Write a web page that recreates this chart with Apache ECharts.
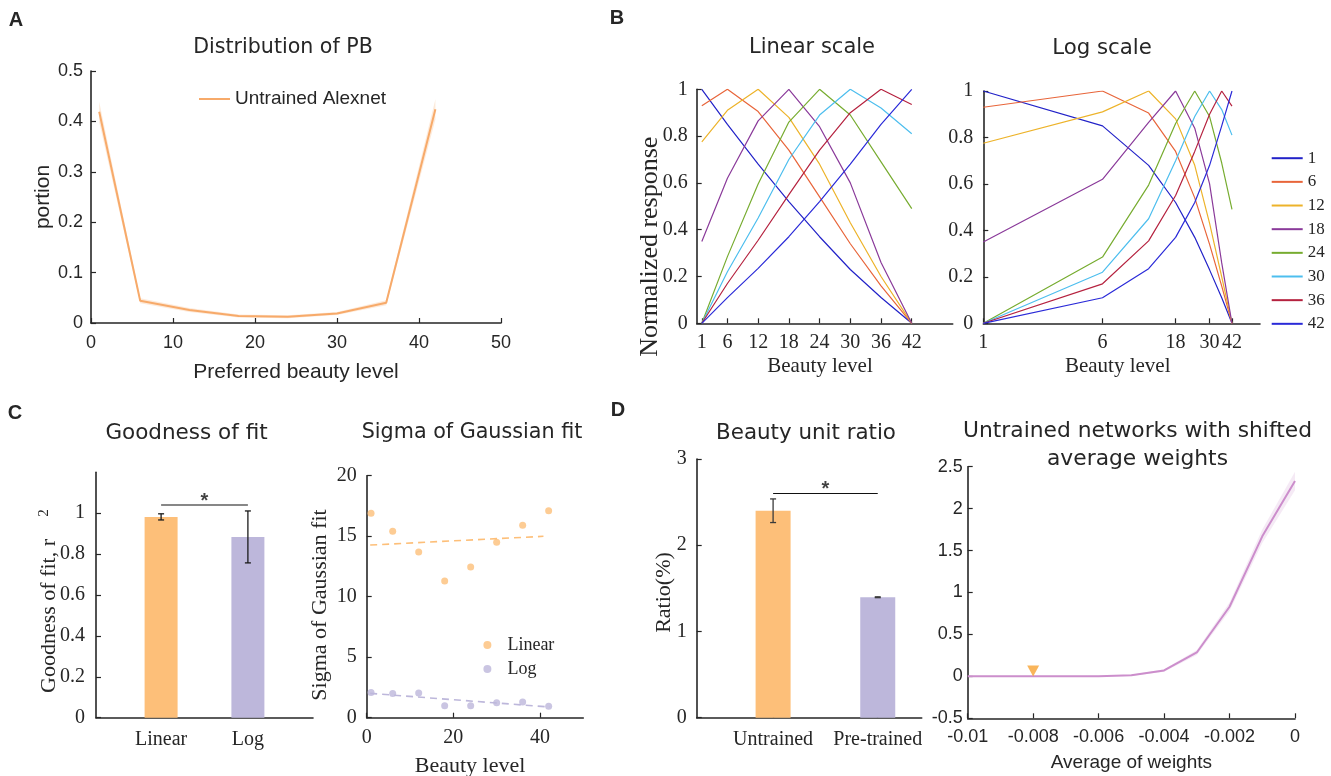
<!DOCTYPE html>
<html>
<head>
<meta charset="utf-8">
<script src="https://cdn.jsdelivr.net/npm/echarts@6/dist/echarts.min.js"></script>
<style>html,body{margin:0;padding:0;background:#fff;}#c{width:1331px;height:776px;}</style>
</head>
<body>
<div id="c"></div>
<script>
// ---------------- DATA ----------------
// Panel A: distribution of preferred beauty level
const levels = [1, 6, 12, 18, 24, 30, 36, 42];
const pbPortion = [0.419, 0.044, 0.026, 0.014, 0.0125, 0.019, 0.040, 0.424];
const pbErr = [0.02, 0.005, 0.004, 0.003, 0.003, 0.003, 0.005, 0.02];

// Panel B: normalized tuning curves (one per preferred level)
const tuneNames = ['1', '6', '12', '18', '24', '30', '36', '42'];
const tune1 = [1, 0.85, 0.68, 0.52, 0.37, 0.23, 0.11, 0];
const tune6 = [0.93, 1, 0.905, 0.74, 0.54, 0.34, 0.16, 0];
const tune12 = [0.775, 0.91, 1, 0.88, 0.68, 0.43, 0.2, 0];
const tune18 = [0.35, 0.62, 0.865, 1, 0.84, 0.6, 0.26, 0];
const tune24 = [0, 0.285, 0.595, 0.86, 1, 0.89, 0.69, 0.49];
const tune30 = [0, 0.22, 0.45, 0.7, 0.89, 1, 0.92, 0.81];
const tune36 = [0, 0.17, 0.355, 0.55, 0.74, 0.9, 1, 0.935];
const tune42 = [0, 0.11, 0.235, 0.37, 0.52, 0.68, 0.85, 1];
const linTicks = [1, 6, 12, 18, 24, 30, 36, 42];
const logTicks = [1, 6, 18, 30, 42];

// Panel C: goodness of fit and sigma of Gaussian fit
const fitCats = ['Linear', 'Log'];
const fitR2 = [0.982, 0.884];
const fitR2Err = [0.015, 0.127];
const fitSigY = 1.04;
const gofYTicks = [0, 0.2, 0.4, 0.6, 0.8, 1];
const sigmaLinear = [16.9, 15.4, 13.7, 11.3, 12.45, 14.5, 15.9, 17.1];
const sigmaLog = [2.09, 2.01, 2.04, 0.99, 0.99, 1.24, 1.29, 0.94];
const sigmaLinFitX = [0.8, 40.8];
const sigmaLinFitY = [14.27, 14.99];
const sigmaLogFitX = [0.8, 42.3];
const sigmaLogFitY = [2.01, 0.88];
const sigmaXTicks = [0, 20, 40];

// Panel D: beauty unit ratio and shifted weights
const ratioCats = ['Untrained', 'Pre-trained'];
const ratioVals = [2.40, 1.397];
const ratioErr = [0.137, 0.005];
const ratioSigY = 2.6;
const shiftX = [-0.01, -0.009, -0.008, -0.007, -0.006, -0.005, -0.004, -0.003, -0.002, -0.001, 0];
const shiftY = [0, 0, 0, 0, 0.002, 0.012, 0.07, 0.285, 0.83, 1.67, 2.33];
const shiftErr = [0.004, 0.004, 0.004, 0.004, 0.005, 0.008, 0.015, 0.03, 0.05, 0.08, 0.11];
const markerX = [-0.008];
const markerY = [0.065];

// ---------------- STYLE ----------------
const SERIF = 'Liberation Serif';
const SANS = 'Liberation Sans';
const TITLEF = 'DejaVu Sans';
const INK = '#262626';
const tuneColors = ['#2222C8', '#E8653A', '#EDB32A', '#8A3A9A', '#77AC30', '#4DBEEE', '#B5223F', '#2A2AD8'];
const orange = '#FDBF79';
const lilac = '#BDB7DB';

function mkAxis(gi, fam, size, margin, o) {
  const ax = {
    type: o.type || 'value', gridIndex: gi, min: o.min, max: o.max,
    axisLine: {show: true, onZero: false, lineStyle: {color: INK, width: 1.6}},
    axisTick: {show: o.tickShow !== false, inside: true, length: 5, lineStyle: {color: INK, width: 1.2}},
    axisLabel: {show: true, color: INK, fontFamily: fam, fontSize: size, margin: margin},
    splitLine: {show: false}, minorTick: {show: false}, minorSplitLine: {show: false}
  };
  if (o.interval != null) ax.interval = o.interval;
  if (o.logBase) ax.logBase = o.logBase;
  if (o.values) { ax.axisLabel.customValues = o.values; ax.axisTick.customValues = o.values; }
  if (o.formatter) ax.axisLabel.formatter = o.formatter;
  return ax;
}

function bandSeries(gi, xs, mid, err, color) {
  const lo = mid.map((v, i) => v - err[i]);
  const hi = mid.map((v, i) => v + err[i]);
  return {
    type: 'custom', xAxisIndex: gi, yAxisIndex: gi, silent: true, z: 1, clip: false,
    data: xs.map((x, i) => [x, lo[i], hi[i]]),
    encode: {x: 0, y: [1, 2]},
    renderItem(params, api) {
      if (params.dataIndex !== 0) return null;
      const pts = [];
      for (let i = 0; i < xs.length; i++) pts.push(api.coord([xs[i], hi[i]]));
      for (let i = xs.length - 1; i >= 0; i--) pts.push(api.coord([xs[i], lo[i]]));
      return {type: 'polygon', shape: {points: pts}, style: {fill: color}};
    }
  };
}

function errSeries(gi, means, errs, color, cap) {
  return {
    type: 'custom', xAxisIndex: gi, yAxisIndex: gi, silent: true, z: 5,
    data: means.map((m, i) => [i + 1, m - errs[i], m + errs[i]]),
    encode: {x: 0, y: [1, 2]},
    renderItem(params, api) {
      const x = api.value(0);
      const a = api.coord([x, api.value(1)]);
      const b = api.coord([x, api.value(2)]);
      const st = {stroke: color, lineWidth: 1.3};
      return {type: 'group', children: [
        {type: 'line', shape: {x1: a[0], y1: a[1], x2: b[0], y2: b[1]}, style: st},
        {type: 'line', shape: {x1: a[0] - cap, y1: a[1], x2: a[0] + cap, y2: a[1]}, style: st},
        {type: 'line', shape: {x1: b[0] - cap, y1: b[1], x2: b[0] + cap, y2: b[1]}, style: st}
      ]};
    }
  };
}

function sigSeries(gi, x0, x1, y) {
  return [
    {type: 'line', xAxisIndex: gi, yAxisIndex: gi, data: [[x0, y], [x1, y]], symbol: 'none',
     lineStyle: {color: '#111', width: 1.2}, silent: true, z: 5},
    {type: 'scatter', xAxisIndex: gi, yAxisIndex: gi, data: [[(x0 + x1) / 2, y]], symbolSize: 1,
     itemStyle: {color: 'rgba(0,0,0,0)'}, silent: true, z: 6,
     label: {show: true, formatter: '*', position: 'inside', offset: [0, -4], fontSize: 20,
             fontWeight: 'bold', fontFamily: SANS, color: '#111'}}
  ];
}

function txt(t, x, y, o) {
  return {type: 'text', x: x, y: y, rotation: o.rot ? Math.PI / 2 : 0, silent: true, z: 100,
    style: {text: t, fontSize: o.size, fontFamily: o.fam, fontWeight: o.weight || 'normal', fill: INK,
            textAlign: 'center', textVerticalAlign: 'middle', align: 'center', verticalAlign: 'middle'}};
}

const tuneData = [tune1, tune6, tune12, tune18, tune24, tune30, tune36, tune42];
const bSeries = [];
tuneData.forEach((arr, k) => {
  const base = {type: 'line', name: tuneNames[k], symbol: 'none', silent: true,
    lineStyle: {color: tuneColors[k], width: 1.2}, itemStyle: {color: tuneColors[k]}};
  bSeries.push(Object.assign({}, base, {xAxisIndex: 1, yAxisIndex: 1, data: levels.map((x, i) => [x, arr[i]])}));
  bSeries.push(Object.assign({}, base, {xAxisIndex: 2, yAxisIndex: 2, data: levels.map((x, i) => [x, arr[i]])}));
});

const option = {
  animation: false,
  backgroundColor: '#ffffff',
  grid: [
    {left: 91, top: 71, width: 410, height: 252},
    {left: 696.7, top: 89.3, width: 256, height: 234},
    {left: 983.3, top: 91, width: 276.7, height: 232.3},
    {left: 96, top: 472.3, width: 217, height: 245.4},
    {left: 366.7, top: 475.7, width: 216.6, height: 242},
    {left: 696.7, top: 459, width: 225, height: 258.7},
    {left: 967.7, top: 466.7, width: 327.3, height: 251.6}
  ].map(g => Object.assign({outerBoundsMode: 'none', containLabel: false}, g)),
  xAxis: [
    mkAxis(0, SANS, 18, 11, {min: 0, max: 50, interval: 10}),
    mkAxis(1, SERIF, 20, 9, {min: 0, max: 50, values: linTicks}),
    mkAxis(2, SERIF, 20, 9, {type: 'log', logBase: 10, min: 1, max: 64, values: logTicks}),
    mkAxis(3, SERIF, 20, 12, {min: 0.25, max: 2.75, values: [1, 2], tickShow: false,
      formatter: v => fitCats[Math.round(v) - 1]}),
    mkAxis(4, SERIF, 20, 10, {min: 0, max: 50, values: sigmaXTicks}),
    mkAxis(5, SERIF, 20, 12, {min: 0.27, max: 2.42, values: [1, 2],
      formatter: v => ratioCats[Math.round(v) - 1]}),
    mkAxis(6, SANS, 18, 10, {min: -0.01, max: 0, interval: 0.002})
  ],
  yAxis: [
    mkAxis(0, SANS, 18, 8, {min: 0, max: 0.5, interval: 0.1}),
    mkAxis(1, SERIF, 20, 9, {min: 0, max: 1, interval: 0.2}),
    mkAxis(2, SERIF, 20, 10, {min: 0, max: 1, interval: 0.2}),
    mkAxis(3, SERIF, 20, 11, {min: 0, max: 1.2, values: gofYTicks}),
    mkAxis(4, SERIF, 20, 10, {min: 0, max: 20, interval: 5}),
    mkAxis(5, SERIF, 20, 10, {min: 0, max: 3, interval: 1}),
    mkAxis(6, SANS, 18, 5, {min: -0.5, max: 2.5, interval: 0.5})
  ],
  legend: [
    {data: ['Untrained Alexnet'], left: 199, top: 89.5, padding: 0, icon: 'rect',
     itemWidth: 31, itemHeight: 2, selectedMode: false,
     textStyle: {fontFamily: SANS, fontSize: 19, lineHeight: 19, color: INK}},
    {data: tuneNames, orient: 'vertical', left: 1271.7, top: 149.7, padding: 0, icon: 'rect',
     itemWidth: 31, itemHeight: 2, itemGap: 6.66, selectedMode: false,
     textStyle: {fontFamily: SERIF, fontSize: 17, lineHeight: 17, color: INK}},
    {data: ['Linear', 'Log'], orient: 'vertical', left: 483.4, top: 636, padding: 0,
     itemWidth: 30, itemHeight: 8, itemGap: 6, selectedMode: false,
     textStyle: {fontFamily: SERIF, fontSize: 18, lineHeight: 18, color: INK}}
  ],
  series: [
    // A
    bandSeries(0, levels, pbPortion, pbErr, 'rgba(246,170,106,0.25)'),
    {type: 'line', name: 'Untrained Alexnet', xAxisIndex: 0, yAxisIndex: 0, symbol: 'none', silent: true,
     data: levels.map((x, i) => [x, pbPortion[i]]),
     lineStyle: {color: '#F7AA6A', width: 2}, itemStyle: {color: '#F7AA6A'}, z: 3},
    // B
    ...bSeries,
    // C left
    {type: 'bar', xAxisIndex: 3, yAxisIndex: 3, barWidth: 33, silent: true,
     data: fitR2.map((v, i) => ({value: [i + 1, v], itemStyle: {color: [orange, lilac][i]}}))},
    errSeries(3, fitR2, fitR2Err, '#1a1a1a', 3),
    ...sigSeries(3, 1, 2, fitSigY),
    // C right
    {type: 'line', xAxisIndex: 4, yAxisIndex: 4, symbol: 'none', silent: true,
     data: sigmaLinFitX.map((x, i) => [x, sigmaLinFitY[i]]),
     lineStyle: {color: orange, width: 1.6, type: [7, 5]}},
    {type: 'line', xAxisIndex: 4, yAxisIndex: 4, symbol: 'none', silent: true,
     data: sigmaLogFitX.map((x, i) => [x, sigmaLogFitY[i]]),
     lineStyle: {color: lilac, width: 1.6, type: [7, 5]}},
    {type: 'scatter', name: 'Linear', xAxisIndex: 4, yAxisIndex: 4, symbolSize: 7, silent: true,
     data: levels.map((x, i) => [x, sigmaLinear[i]]), itemStyle: {color: orange}},
    {type: 'scatter', name: 'Log', xAxisIndex: 4, yAxisIndex: 4, symbolSize: 7, silent: true,
     data: levels.map((x, i) => [x, sigmaLog[i]]), itemStyle: {color: lilac}},
    // D left
    {type: 'bar', xAxisIndex: 5, yAxisIndex: 5, barWidth: 35, silent: true,
     data: ratioVals.map((v, i) => ({value: [i + 1, v], itemStyle: {color: [orange, lilac][i]}}))},
    errSeries(5, ratioVals, ratioErr, '#3a3a3a', 3),
    ...sigSeries(5, 1, 2, ratioSigY),
    // D right
    bandSeries(6, shiftX, shiftY, shiftErr, 'rgba(204,150,204,0.2)'),
    {type: 'line', xAxisIndex: 6, yAxisIndex: 6, symbol: 'none', silent: true,
     data: shiftX.map((x, i) => [x, shiftY[i]]), lineStyle: {color: '#CC8ECC', width: 2}, z: 3},
    {type: 'scatter', xAxisIndex: 6, yAxisIndex: 6, symbol: 'triangle', symbolRotate: 180,
     symbolSize: [12, 11], silent: true, z: 4,
     data: markerX.map((x, i) => [x, markerY[i]]), itemStyle: {color: '#F7A232'}}
  ],
  graphic: {elements: [
    txt('A', 16, 20, {size: 20, fam: SANS, weight: 'bold'}),
    txt('B', 617, 18, {size: 20, fam: SANS, weight: 'bold'}),
    txt('C', 15, 413, {size: 20, fam: SANS, weight: 'bold'}),
    txt('D', 618, 410, {size: 20, fam: SANS, weight: 'bold'}),
    txt('Distribution of PB', 283, 48, {size: 20.6, fam: TITLEF}),
    txt('Linear scale', 812, 48, {size: 21, fam: TITLEF}),
    txt('Log scale', 1102, 48, {size: 21.3, fam: TITLEF}),
    txt('Goodness of fit', 186.5, 433, {size: 21.5, fam: TITLEF}),
    txt('Sigma of Gaussian fit', 472, 433, {size: 20.7, fam: TITLEF}),
    txt('Beauty unit ratio', 806, 433, {size: 21.4, fam: TITLEF}),
    txt('Untrained networks with shifted', 1137.5, 431, {size: 21.8, fam: TITLEF}),
    txt('average weights', 1137.5, 459, {size: 21.8, fam: TITLEF}),
    txt('Preferred beauty level', 296, 372, {size: 21, fam: SANS}),
    txt('portion', 43.3, 197, {size: 21, fam: SANS, rot: true}),
    txt('Beauty level', 820, 366, {size: 21, fam: SERIF}),
    txt('Beauty level', 1117.7, 366, {size: 21, fam: SERIF}),
    txt('Normalized response', 650, 246.7, {size: 26, fam: SERIF, rot: true}),
    txt('Goodness of fit, r', 49, 616, {size: 22, fam: SERIF, rot: true}),
    txt('2', 44, 513, {size: 15, fam: SERIF, rot: true}),
    txt('Sigma of Gaussian fit', 320.7, 605, {size: 22, fam: SERIF, rot: true}),
    txt('Beauty level', 470, 766, {size: 22, fam: SERIF}),
    txt('Ratio(%)', 664, 592.5, {size: 22, fam: SERIF, rot: true}),
    txt('Average of weights', 1131.4, 763, {size: 19, fam: SANS})
  ]}
};

const chart = echarts.init(document.getElementById('c'), null, {renderer: 'canvas'});
chart.setOption(option);
</script>
</body>
</html>
